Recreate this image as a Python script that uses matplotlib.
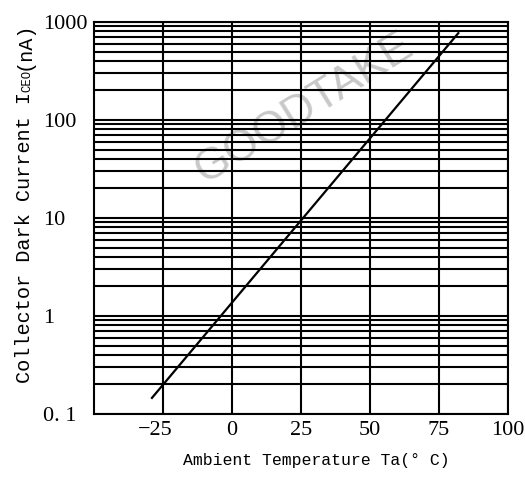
import matplotlib
matplotlib.use("Agg")
import matplotlib.pyplot as plt
import matplotlib.transforms as mtransforms
import numpy as np

# Data
temps = [-29, 82]            # Ambient temperature (°C)
current = [0.146, 770]       # Collector dark current (nA)
x_ticks = [-25, 0, 25, 50, 75, 100]
x_tick_labels = ["\u221225", "0", "25", "50", "75", "100"]
y_ticks = [0.1, 1, 10, 100, 1000]
y_tick_labels = ["0. 1", "1", "10", "100", "1000"]

W, H = 525, 478
fig = plt.figure(figsize=(W / 100, H / 100), dpi=100)
ax = fig.add_axes([94 / W, 1 - 414 / H, (508 - 94) / W, (414 - 22) / H])

ax.set_xscale("linear")
ax.set_yscale("log")
ax.set_xlim(-50, 100)
ax.set_ylim(0.1, 1000)

lw = 1.5
ax.set_xticks(x_ticks)
ax.set_xticklabels(x_tick_labels, family="Liberation Serif", fontsize=16)
ax.set_yticks(y_ticks)
ax.set_yticklabels(y_tick_labels, family="Liberation Serif", fontsize=16)
minor = [m * 10.0 ** e for e in range(-1, 3) for m in range(2, 10)]
ax.set_yticks(minor, minor=True)
ax.set_xticks([], minor=True)
ax.yaxis.set_minor_formatter(matplotlib.ticker.NullFormatter())
ax.tick_params(axis="both", which="both", length=0)
ax.tick_params(axis="x", pad=5)
ax.tick_params(axis="y", pad=36.7)
for lab in ax.get_yticklabels():
    lab.set_ha("left")
# shift the -25 label slightly left
lab0 = ax.get_xticklabels()[0]
lab0.set_transform(lab0.get_transform() + mtransforms.ScaledTranslation(-8 / 100, 0, fig.dpi_scale_trans))

ax.grid(True, which="both", axis="y", color="black", lw=lw)
ax.grid(True, which="major", axis="x", color="black", lw=lw)
for s in ax.spines.values():
    s.set_linewidth(lw)
    s.set_color("black")

# watermark
ax.text(0.507, 0.781, "GOODTAKE", transform=ax.transAxes,
        rotation=32, ha="center", va="center", fontsize=32,
        family="Liberation Sans", color="#c8c8c8", zorder=1)

ax.plot(temps, current, color="black", lw=1.6, zorder=3)

# x label
fig.text(316 / W, 1 - 460 / H, "Ambient Temperature Ta(\u00b0 C)", ha="center", va="center",
         family="Liberation Mono", fontsize=11.9)

# y label composed of pieces
fig.canvas.draw()
r = fig.canvas.get_renderer()
x0 = 30 / W
y0 = 383
pieces = [("Collector Dark Current I", 14.6), ("CEO", 8.8), ("(nA)", 14.6)]
for txt, fs in pieces:
    t = fig.text(x0, 1 - y0 / H, txt, rotation=90, rotation_mode="anchor",
                 ha="left", va="baseline", family="Liberation Mono", fontsize=fs)
    bb = t.get_window_extent(renderer=r)
    y0 -= bb.height

fig.savefig("out.png", dpi=100)
